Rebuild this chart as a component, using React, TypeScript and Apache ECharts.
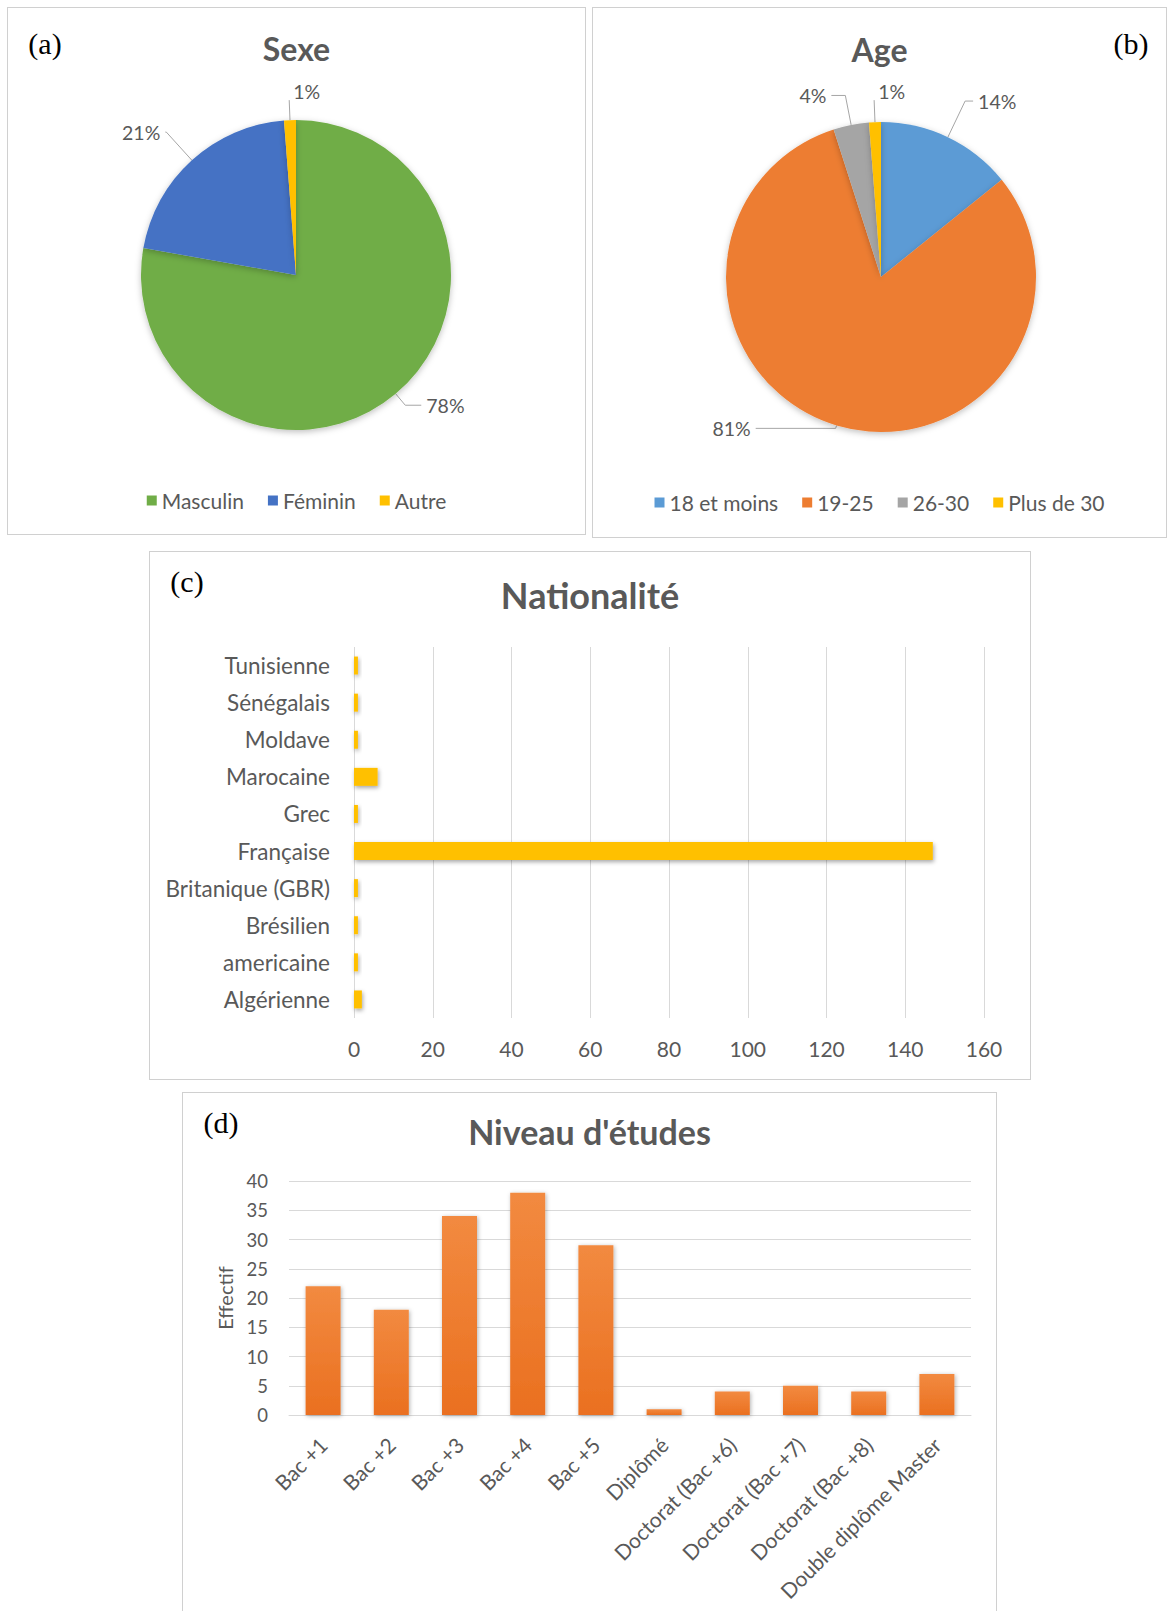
import React, { useEffect, useRef } from 'react';
import * as echarts from 'echarts';

// ---------- DATA ----------
const sexeCategories = ['Masculin', 'Féminin', 'Autre'];
const sexeValues = [126, 34, 2];
const sexeColors = ['#70AD47', '#4472C4', '#FFC000'];

const ageCategories = ['18 et moins', '19-25', '26-30', 'Plus de 30'];
const ageValues = [23, 131, 6, 2];
const ageColors = ['#5B9BD5', '#ED7D31', '#A5A5A5', '#FFC000'];

const nationalityCategories = [
  'Algérienne',
  'americaine',
  'Brésilien',
  'Britanique (GBR)',
  'Française',
  'Grec',
  'Marocaine',
  'Moldave',
  'Sénégalais',
  'Tunisienne',
];
const nationalityValues = [2, 1, 1, 1, 147, 1, 6, 1, 1, 1];

const studyCategories = [
  'Bac +1',
  'Bac +2',
  'Bac +3',
  'Bac +4',
  'Bac +5',
  'Diplômé',
  'Doctorat (Bac +6)',
  'Doctorat (Bac +7)',
  'Doctorat (Bac +8)',
  'Double diplôme Master',
];
const studyValues = [22, 18, 34, 38, 29, 1, 4, 5, 4, 7];

// ---------- STYLE ----------
const FONT = 'Lato, "Noto Sans", sans-serif';
const SERIF = '"Liberation Serif", "DejaVu Serif", serif';
const TEXT = '#595959';
const GRID = '#D9D9D9';
const LEADER = '#A6A6A6';

type Box = { x: number; y: number; w: number; h: number };

function ChartPanel({ box, option }: { box: Box; option: any }) {
  const ref = useRef<HTMLDivElement>(null);
  useEffect(() => {
    if (!ref.current) return;
    const chart = echarts.init(ref.current, null, { renderer: 'svg' });
    chart.setOption(option);
    return () => chart.dispose();
  }, []);
  return (
    <div
      style={{
        position: 'absolute',
        left: box.x,
        top: box.y,
        width: box.w,
        height: box.h,
        border: '1px solid #D0D0D0',
        boxSizing: 'border-box',
        background: '#fff',
      }}
    >
      <div ref={ref} style={{ width: box.w - 2, height: box.h - 2 }} />
    </div>
  );
}

const panelLabel = (text: string, x: number, y: number) => ({
  type: 'text',
  x,
  y,
  style: {
    text,
    fontFamily: SERIF,
    fontSize: 30,
    fill: '#000',
    align: 'center',
    verticalAlign: 'middle',
  },
});

const titleOpt = (text: string, top: number, size: number) => ({
  text,
  left: 'center',
  top,
  padding: 0,
  textStyle: { fontFamily: FONT, fontSize: size, fontWeight: 'bold', color: TEXT },
});

// flip the labels of tiny slices to the right of their leader line
const flipRight = (indices: number[]) => (p: any) => {
  if (!indices.includes(p.dataIndex) || !p.labelLinePoints) return {};
  const pts = p.labelLinePoints;
  const end = pts[1];
  return {
    x: end[0] + 4,
    y: end[1] - 9,
    align: 'left',
    verticalAlign: 'middle',
    labelLinePoints: [pts[0], pts[1], pts[1]],
  };
};

const pieSeries = (
  names: string[],
  values: number[],
  colors: string[],
  center: number[],
  lines: number[][],
  flip: number[]
) => ({
  type: 'pie',
  center,
  radius: 155,
  startAngle: 90,
  clockwise: true,
  avoidLabelOverlap: false,
  label: {
    show: true,
    position: 'outside',
    formatter: (p: any) => Math.round(p.percent) + '%',
    fontFamily: FONT,
    fontSize: 19.5,
    color: TEXT,
  },
  labelLine: { show: true, smooth: false, lineStyle: { color: LEADER, width: 1 } },
  labelLayout: flipRight(flip),
  itemStyle: {
    shadowBlur: 6,
    shadowColor: 'rgba(0,0,0,0.25)',
    shadowOffsetY: 2,
  },
  data: names.map((n, i) => ({
    name: n,
    value: values[i],
    itemStyle: { color: colors[i] },
    labelLine: { length: lines[i][0], length2: lines[i][1] },
  })),
});

const legendOpt = (names: string[], top: number) => ({
  data: names,
  left: 'center',
  top,
  padding: 0,
  icon: 'rect',
  itemWidth: 10,
  itemHeight: 10,
  itemGap: 24,
  textStyle: { fontFamily: FONT, fontSize: 21, color: TEXT },
});

const sexeOption = {
  animation: false,
  title: titleOpt('Sexe', 24, 32),
  legend: legendOpt(sexeCategories, 482),
  graphic: [panelLabel('(a)', 37, 35)],
  series: [
    pieSeries(
      sexeCategories,
      sexeValues,
      sexeColors,
      [288, 267],
      [
        [15, 16],
        [38, 1],
        [20, 0],
      ],
      [2]
    ),
  ],
};

const ageOption = {
  animation: false,
  title: titleOpt('Age', 25, 32),
  legend: legendOpt(ageCategories, 484),
  graphic: [panelLabel('(b)', 538, 35)],
  series: [
    pieSeries(
      ageCategories,
      ageValues,
      ageColors,
      [288, 269],
      [
        [40, 8],
        [3, 80],
        [30, 14],
        [22, 0],
      ],
      [3]
    ),
  ],
};

const nationalityOption = {
  animation: false,
  title: titleOpt('Nationalité', 25, 36),
  graphic: [panelLabel('(c)', 37, 29)],
  grid: { left: 204, right: 46, top: 95, bottom: 61 },
  xAxis: {
    type: 'value',
    min: 0,
    max: 160,
    interval: 20,
    axisLine: { show: false },
    axisTick: { show: false },
    splitLine: { lineStyle: { color: GRID, width: 1 } },
    axisLabel: { fontFamily: FONT, fontSize: 21, color: TEXT, margin: 20 },
  },
  yAxis: {
    type: 'category',
    data: nationalityCategories,
    axisLine: { show: false },
    axisTick: { show: false },
    axisLabel: { fontFamily: FONT, fontSize: 22.5, color: TEXT, margin: 24 },
  },
  series: [
    {
      type: 'bar',
      data: nationalityValues,
      barWidth: 18,
      itemStyle: {
        color: '#FFC000',
        shadowBlur: 4,
        shadowColor: 'rgba(0,0,0,0.35)',
        shadowOffsetX: 1,
        shadowOffsetY: 2,
      },
    },
  ],
};

const studyOption = {
  animation: false,
  title: titleOpt("Niveau d'études", 21, 34),
  graphic: [panelLabel('(d)', 38, 29)],
  grid: { left: 106, right: 25, top: 88, bottom: 216 },
  xAxis: {
    type: 'category',
    data: studyCategories,
    axisLine: { show: true, lineStyle: { color: GRID } },
    axisTick: { show: false },
    axisLabel: {
      interval: 0,
      rotate: 45,
      fontFamily: FONT,
      fontSize: 21,
      color: TEXT,
      margin: 26,
    },
  },
  yAxis: {
    type: 'value',
    min: 0,
    max: 40,
    interval: 5,
    name: 'Effectif',
    nameLocation: 'middle',
    nameRotate: 90,
    nameGap: 54,
    nameTextStyle: { fontFamily: FONT, fontSize: 20, color: TEXT },
    axisLine: { show: false },
    axisTick: { show: false },
    splitLine: { lineStyle: { color: GRID, width: 1 } },
    axisLabel: { fontFamily: FONT, fontSize: 18.5, color: TEXT, margin: 21 },
  },
  series: [
    {
      type: 'bar',
      data: studyValues,
      barWidth: 35,
      itemStyle: {
        color: new echarts.graphic.LinearGradient(0, 0, 0, 1, [
          { offset: 0, color: '#F28A40' },
          { offset: 1, color: '#EA7020' },
        ]),
        shadowBlur: 4,
        shadowColor: 'rgba(0,0,0,0.3)',
        shadowOffsetX: 1,
        shadowOffsetY: 1,
      },
    },
  ],
};

export default function App() {
  return (
    <div
      style={{
        position: 'absolute',
        left: 0,
        top: 0,
        width: 1167,
        height: 1611,
        overflow: 'hidden',
        background: '#fff',
      }}
    >
      <ChartPanel box={{ x: 7, y: 7, w: 579, h: 528 }} option={sexeOption} />
      <ChartPanel box={{ x: 592, y: 7, w: 575, h: 531 }} option={ageOption} />
      <ChartPanel box={{ x: 149, y: 551, w: 882, h: 529 }} option={nationalityOption} />
      <ChartPanel box={{ x: 182, y: 1092, w: 815, h: 540 }} option={studyOption} />
    </div>
  );
}
